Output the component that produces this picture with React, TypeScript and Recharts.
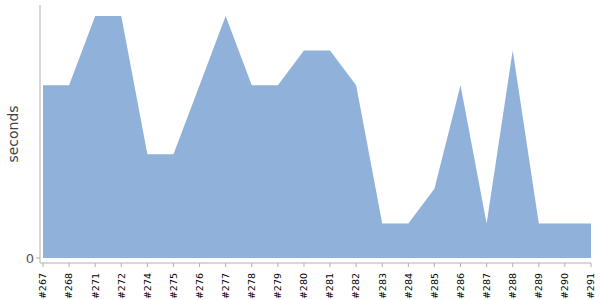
import { AreaChart, Area, XAxis, YAxis, Label } from 'recharts'

const builds = [
  '#267', '#268', '#271', '#272', '#274', '#275', '#276', '#277', '#278', '#279', '#280',
  '#281', '#282', '#283', '#284', '#285', '#286', '#287', '#288', '#289', '#290', '#291',
]
const seconds = [5, 5, 7, 7, 3, 3, 5, 7, 5, 5, 6, 6, 5, 1, 1, 2, 5, 1, 6, 1, 1, 1]

const data = builds.map((build, i) => ({ build, seconds: seconds[i] }))

const font = '"DejaVu Sans", Verdana, sans-serif'

function BuildTick(props: any) {
  const { x, y, payload } = props
  const ty = y + 4
  return (
    <text
      x={x}
      y={ty}
      transform={`rotate(-90, ${x}, ${ty})`}
      textAnchor="end"
      dy="0.35em"
      fontSize={9.5}
      fontFamily={font}
      fill="#000"
    >
      {payload.value}
    </text>
  )
}

export default function App() {
  return (
    <div style={{ position: 'absolute', left: 0, top: 0, background: '#fff' }}>
      <AreaChart
        width={600}
        height={300}
        data={data}
        margin={{ top: 5, right: 9, bottom: 0, left: 0 }}
      >
        <XAxis
          dataKey="build"
          interval={0}
          height={37}
          padding={{ left: 3, right: 0 }}
          tick={<BuildTick />}
          tickSize={4}
          stroke="#b0b0b0"
          tickLine={{ stroke: '#b0b0b0' }}
        />
        <YAxis
          width={40}
          domain={[-0.145, 7.32]}
          ticks={[0]}
          tickSize={4}
          stroke="#b0b0b0"
          tick={{ fill: '#555', fontSize: 13, fontFamily: font }}
        >
          <Label
            value="seconds"
            angle={-90}
            position="insideLeft"
            offset={13}
            style={{ fill: '#444', fontSize: 14, fontFamily: font, textAnchor: 'middle' }}
          />
        </YAxis>
        <Area
          type="linear"
          dataKey="seconds"
          fill="#8FB1DA"
          fillOpacity={1}
          stroke="none"
          isAnimationActive={false}
        />
      </AreaChart>
    </div>
  )
}
